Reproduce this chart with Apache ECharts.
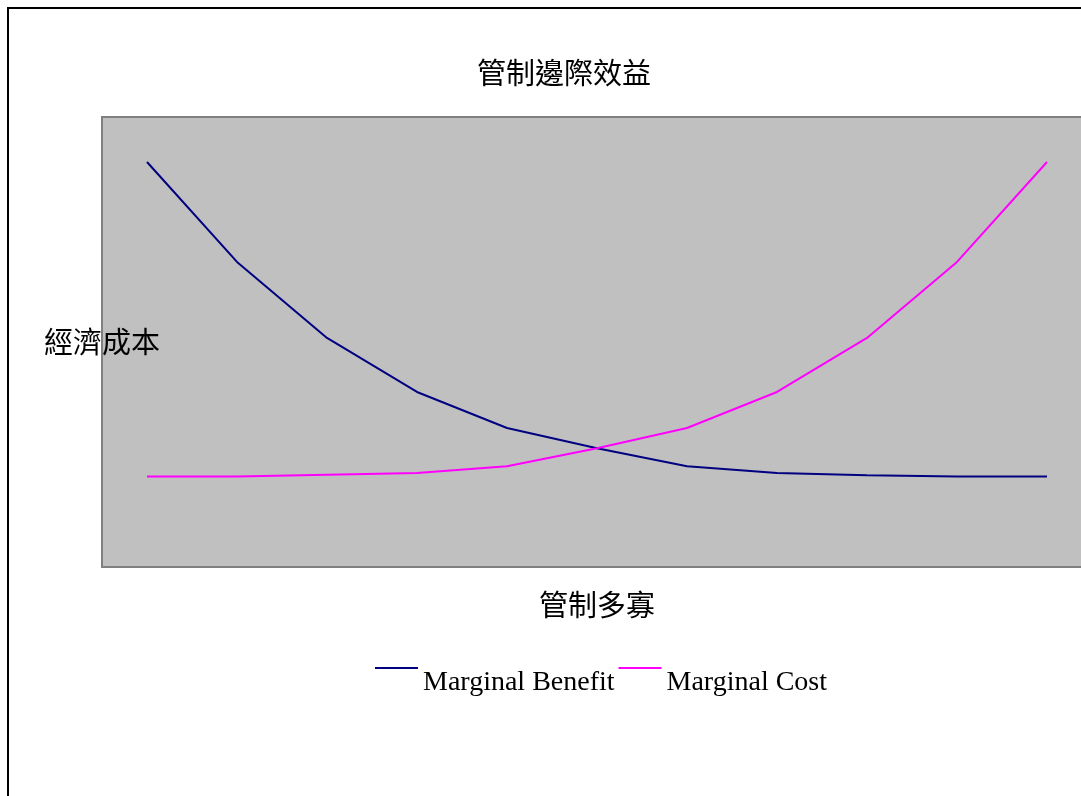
<!DOCTYPE html>
<html>
<head>
<meta charset="utf-8">
<script src="https://cdn.jsdelivr.net/npm/echarts@6/dist/echarts.min.js"></script>
<style>
  html, body { margin: 0; padding: 0; background: #fff; overflow: hidden; }
  /* plot area runs past the right edge of the window, like the original */
  #chart { width: 1100px; height: 796px; }
</style>
</head>
<body>
<div id="chart"></div>
<script>
// 管制多寡 (x) vs 經濟成本 (y)
const categories = ['1', '2', '3', '4', '5', '6', '7', '8', '9', '10', '11']
const marginalBenefit = [90, 67.8, 50.9, 38.9, 30.9, 26.4, 22.4, 20.9, 20.4, 20.1, 20.1]
const marginalCost = [20.1, 20.1, 20.5, 20.9, 22.4, 26.4, 30.9, 38.9, 50.9, 67.8, 90]

const cjkFont = '"Noto Sans CJK TC", "Noto Sans CJK SC", sans-serif'
const serifFont = '"Liberation Serif", "DejaVu Serif", serif'

// legend icon: short line at the top of a 43x31 box, text sits lower
const legendIcon = 'path://M0,0H43V2H0ZM42.99,30.99H43V31H42.99Z'

const chart = echarts.init(document.getElementById('chart'))

const option = {
  animation: false,
  backgroundColor: '#ffffff',
  title: {
    text: '管制邊際效益',
    left: 472,
    top: 53,
    textStyle: {
      fontFamily: cjkFont,
      fontSize: 29,
      fontWeight: 'normal',
      color: '#000'
    }
  },
  graphic: [
    {
      type: 'rect',
      silent: true,
      shape: { x: 8, y: 8, width: 1200, height: 1000 },
      style: { fill: null, stroke: '#000', lineWidth: 2 }
    }
  ],
  legend: {
    left: 370,
    top: 662,
    itemGap: 4,
    itemWidth: 43,
    itemHeight: 31,
    icon: legendIcon,
    textStyle: {
      fontFamily: serifFont,
      fontSize: 28,
      color: '#000'
    },
    data: ['Marginal Benefit', 'Marginal Cost']
  },
  grid: {
    show: true,
    left: 102,
    top: 117,
    width: 990,
    height: 450,
    backgroundColor: '#C0C0C0',
    borderColor: '#808080',
    borderWidth: 2
  },
  xAxis: {
    type: 'category',
    data: categories,
    boundaryGap: true,
    name: '管制多寡',
    nameLocation: 'middle',
    nameGap: 23,
    nameTextStyle: {
      fontFamily: cjkFont,
      fontSize: 29,
      color: '#000'
    },
    axisLine: { show: false },
    axisTick: { show: false },
    axisLabel: { show: false },
    splitLine: { show: false }
  },
  yAxis: {
    type: 'value',
    min: 0,
    max: 100,
    name: '經濟成本',
    nameLocation: 'middle',
    nameRotate: 0,
    nameGap: 0,
    nameTextStyle: {
      fontFamily: cjkFont,
      fontSize: 29,
      color: '#000',
      align: 'center',
      verticalAlign: 'middle'
    },
    axisLine: { show: false },
    axisTick: { show: false },
    axisLabel: { show: false },
    splitLine: { show: false }
  },
  series: [
    {
      name: 'Marginal Benefit',
      type: 'line',
      data: marginalBenefit,
      symbol: 'none',
      color: '#000080',
      lineStyle: { color: '#000080', width: 2 }
    },
    {
      name: 'Marginal Cost',
      type: 'line',
      data: marginalCost,
      symbol: 'none',
      color: '#FF00FF',
      lineStyle: { color: '#FF00FF', width: 2 }
    }
  ]
}

chart.setOption(option)
</script>
</body>
</html>
